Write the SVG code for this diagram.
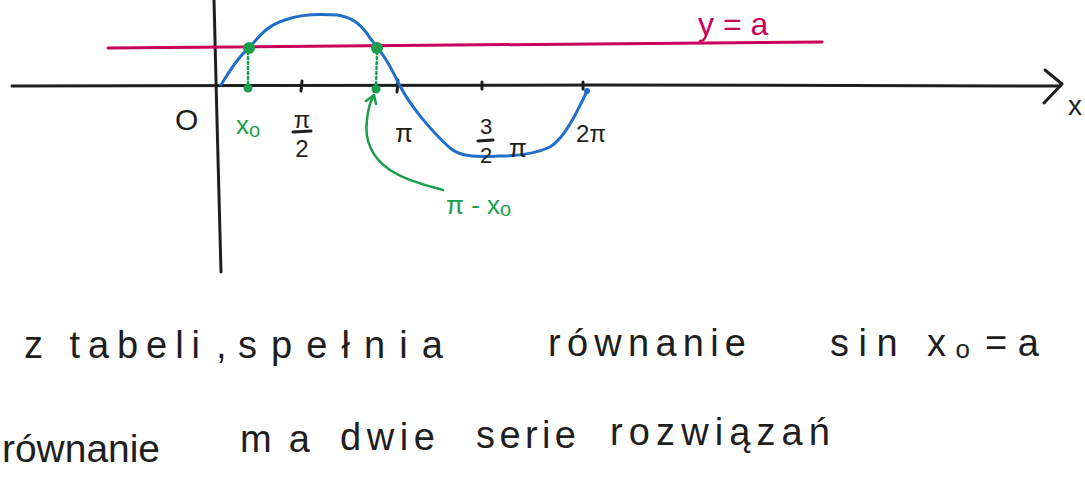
<svg xmlns="http://www.w3.org/2000/svg" width="1085" height="487" viewBox="0 0 1085 487">
<style>
.ax{fill:none;stroke:#1e1e1e;stroke-width:3;stroke-linecap:round;stroke-linejoin:round}
.bl{fill:none;stroke:#1f6fc8;stroke-width:3;stroke-linecap:round;stroke-linejoin:round}
.mg{fill:none;stroke:#c8005a;stroke-width:3;stroke-linecap:round}
.gr{fill:none;stroke:#1b9e4b;stroke-width:2.5;stroke-linecap:round;stroke-linejoin:round}
.gd{fill:#1b9e4b}
.t{font-family:"Liberation Sans","DejaVu Sans",sans-serif;fill:#1e1e1e}
.tg{font-family:"Liberation Sans","DejaVu Sans",sans-serif;fill:#1b9e4b}
.tm{font-family:"Liberation Sans","DejaVu Sans",sans-serif;fill:#c8005a}
.hw{font-family:"Liberation Sans","DejaVu Sans",sans-serif;fill:#1e1e1e;font-size:38px;font-weight:300}
</style>
<rect width="1085" height="487" fill="#ffffff"/>
<g id="axes">
<path class="ax" d="M214 0 L217 120 L221 272"/>
<path class="ax" d="M12 86 L600 85 L1060 86"/>
<path class="ax" d="M1045 70 L1062 84 L1044 103"/>
<path class="ax" d="M302 81 L301 91 M398 80 L397 92 M482 82 L482 89 M583 82 L583 89"/>
</g>
<g id="line-y-a">
<path class="mg" d="M108 48 L822 42"/>
<text class="tm" x="698" y="35" font-size="32">y = a</text>
</g>
<g id="sine-curve">
<path class="bl" d="M221 85 C230 70 240 55 249 48 C260 35 268 25 285 20 C300 14 320 14 337 15 C350 17 360 22 370 38 C385 55 392 70 400 86 C410 105 430 130 450 148 C462 158 480 157 500 156 C520 156 535 154 550 147 C565 138 578 110 587 91"/>
<circle cx="587" cy="91" r="3" fill="#1f6fc8"/>
</g>
<g id="point-x0">
<circle class="gd" cx="249" cy="48" r="6"/>
<circle class="gd" cx="248" cy="88" r="4.5"/>
<path class="gr" d="M248 52 L248 86" stroke-dasharray="2 3"/>
<text class="tg" x="236" y="134" font-size="26">x<tspan font-size="20" dy="3">o</tspan></text>
</g>
<g id="point-pi-x0">
<circle class="gd" cx="377" cy="48" r="6"/>
<circle class="gd" cx="376" cy="89" r="4.5"/>
<path class="gr" d="M377 52 L376 86" stroke-dasharray="2 3"/>
<path class="gr" d="M443 190 C425 185 405 180 390 170 C372 158 364 140 367 120 C368 108 371 100 374 96"/>
<path class="gr" d="M366 101 L374 95 L376 104"/>
<text class="tg" x="446" y="214" font-size="26">π - x<tspan font-size="20" dy="2">o</tspan></text>
</g>
<g id="labels">
<text class="t" x="175" y="130" font-size="30">O</text>
<text class="t" x="302" y="128" font-size="24" text-anchor="middle">π</text>
<path class="ax" d="M293 132 L311 131" stroke-width="2.5"/>
<text class="t" x="302" y="157" font-size="24" text-anchor="middle">2</text>
<text class="t" x="404" y="142" font-size="26" text-anchor="middle">π</text>
<text class="t" x="486" y="134" font-size="22" text-anchor="middle">3</text>
<path class="ax" d="M478 141 L493 140" stroke-width="2.5"/>
<text class="t" x="486" y="163" font-size="22" text-anchor="middle">2</text>
<text class="t" x="518" y="157" font-size="26" text-anchor="middle">π</text>
<text class="t" x="591" y="142" font-size="24" text-anchor="middle">2π</text>
<text class="t" x="1075" y="115" font-size="28" text-anchor="middle">x</text>
</g>
<g id="text-lines">
<text class="hw" x="24" y="358" textLength="176" lengthAdjust="spacing">z tabeli</text>
<text class="hw" x="216" y="358">,</text>
<text class="hw" x="238" y="358" textLength="205" lengthAdjust="spacing">spełnia</text>
<text class="hw" x="548" y="356" textLength="198" lengthAdjust="spacing">równanie</text>
<text class="hw" x="830" y="356" font-size="34" textLength="140" lengthAdjust="spacing">sin x<tspan font-size="26" dy="2">o</tspan></text>
<text class="hw" x="985" y="356" font-size="34">= a</text>
<text class="hw" x="2" y="462" font-size="34" textLength="158" lengthAdjust="spacingAndGlyphs">równanie</text>
<text class="hw" x="240" y="452" textLength="70" lengthAdjust="spacing">ma</text>
<text class="hw" x="340" y="450" textLength="95" lengthAdjust="spacing">dwie</text>
<text class="hw" x="476" y="448" textLength="100" lengthAdjust="spacing">serie</text>
<text class="hw" x="610" y="445" textLength="220" lengthAdjust="spacing">rozwiązań</text>
</g>
</svg>
